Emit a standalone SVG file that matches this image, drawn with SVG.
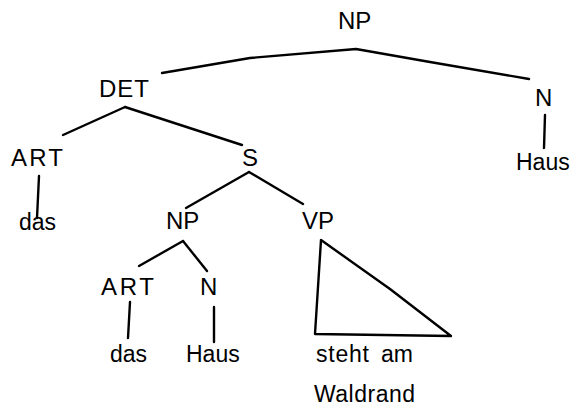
<svg xmlns="http://www.w3.org/2000/svg" width="572" height="407" viewBox="0 0 572 407">
  <style>
    .lbl { font-family: "Liberation Sans", Arial, sans-serif; font-size: 23px; fill: #000; }
    .cat { font-size: 24px; }
    .edge { fill: none; stroke: #000; stroke-width: 2.4; stroke-linecap: round; stroke-linejoin: round; }
  </style>
  <rect width="572" height="407" fill="#fff"/>

  <!-- tree branches -->
  <g id="connectors" class="edge">
    <polyline points="162,73 250,58 356,49 430,62 529,79"/>
    <line x1="545" y1="115" x2="544" y2="148"/>
    <line x1="125" y1="107" x2="63" y2="135"/>
    <line x1="125" y1="107" x2="242" y2="145"/>
    <line x1="39" y1="176" x2="37" y2="218"/>
    <line x1="249" y1="172" x2="186" y2="208"/>
    <line x1="249" y1="172" x2="303" y2="204"/>
    <line x1="183" y1="241" x2="139" y2="266"/>
    <line x1="183" y1="241" x2="207" y2="271"/>
    <line x1="130" y1="302" x2="128" y2="338"/>
    <line x1="214" y1="307" x2="214" y2="342"/>
    <polygon points="321,240 315,334 451,336 390,289"/>
  </g>

  <g id="np-root"><text class="lbl cat" x="338" y="29">NP</text></g>
  <g id="det"><text class="lbl cat" x="99" y="97" textLength="50">DET</text></g>
  <g id="n-right"><text class="lbl cat" x="535" y="106">N</text></g>
  <g id="haus-right"><text class="lbl" x="516" y="170">Haus</text></g>
  <g id="art-left"><text class="lbl cat" x="11" y="166" textLength="52">ART</text></g>
  <g id="s"><text class="lbl cat" x="242" y="166">S</text></g>
  <g id="das-left"><text class="lbl" x="19" y="230">das</text></g>
  <g id="np-inner"><text class="lbl cat" x="166" y="229">NP</text></g>
  <g id="vp"><text class="lbl cat" x="302" y="229">VP</text></g>
  <g id="art-inner"><text class="lbl cat" x="101" y="295" textLength="53">ART</text></g>
  <g id="n-inner"><text class="lbl cat" x="200" y="295">N</text></g>
  <g id="das-inner"><text class="lbl" x="110" y="362">das</text></g>
  <g id="haus-inner"><text class="lbl" x="186" y="362">Haus</text></g>
  <g id="vp-words">
    <text class="lbl" x="316" y="362" textLength="53">steht</text>
    <text class="lbl" x="381" y="362">am</text>
    <text class="lbl" x="314" y="402" textLength="101">Waldrand</text>
  </g>
</svg>
